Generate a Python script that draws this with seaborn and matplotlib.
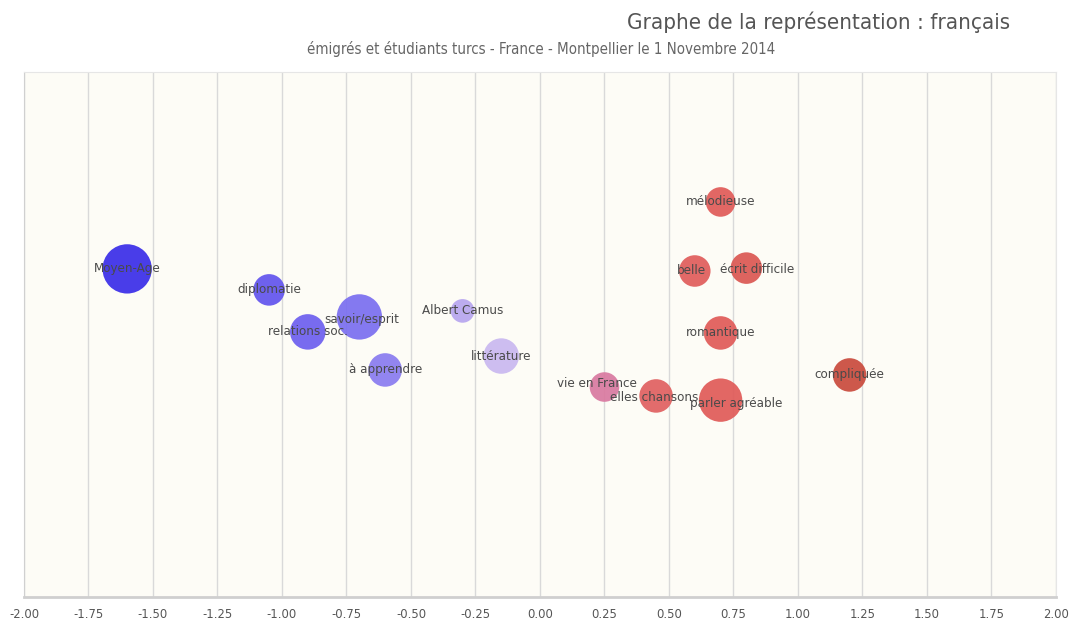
import matplotlib
matplotlib.use("Agg")
import matplotlib.pyplot as plt
import seaborn as sns
import pandas as pd
import numpy as np
from matplotlib.colors import LinearSegmentedColormap

# data
mots = [
    "Moyen-Age", "diplomatie", "relations soc.", "savoir/esprit", "à apprendre",
    "Albert Camus", "littérature", "vie en France", "elles chansons", "parler agréable",
    "mélodieuse", "belle", "écrit difficile", "romantique", "compliquée",
]
axe_x = [-1.60, -1.05, -0.90, -0.70, -0.60, -0.30, -0.15, 0.25, 0.45, 0.70,
         0.70, 0.60, 0.80, 0.70, 1.20]
axe_y = [0.25, 0.17, 0.01, 0.067, -0.135, 0.09, -0.082, -0.20, -0.234, -0.25,
         0.505, 0.242, 0.253, 0.006, -0.154]
poids = [625, 256, 324, 529, 289, 144, 324, 225, 289, 484, 225, 256, 256, 289, 289]
x_ticks = [-2.0, -1.75, -1.5, -1.25, -1.0, -0.75, -0.5, -0.25, 0.0, 0.25, 0.5,
           0.75, 1.0, 1.25, 1.5, 1.75, 2.0]

df = pd.DataFrame({"mot": mots, "x": axe_x, "y": axe_y, "poids": poids})

# small nudges of some labels (in pixels), as in the reference
decal = {"savoir/esprit": (2, -3), "vie en France": (-8, 4), "elles chansons": (-2, -2),
         "parler agréable": (16, -3), "écrit difficile": (11, -1), "belle": (-3, 0)}

# blue -> lavender -> pink -> red, keyed on the x position
cmap = LinearSegmentedColormap.from_list("bleu_rouge", [
    (0.00, "#1e10e6"), (0.10, "#3a2ee8"), (0.25, "#6658ef"), (0.325, "#7a6ef0"),
    (0.425, "#b8a6ef"), (0.4625, "#c9b8f0"), (0.5625, "#d97aa3"), (0.6125, "#e0605f"),
    (0.675, "#e05a58"), (0.80, "#c94a3c"), (1.00, "#a83222"),
])

sns.set_style("white")
plt.rcParams["font.family"] = ["DejaVu Sans"]
plt.rcParams["font.stretch"] = "condensed"

fig = plt.figure(figsize=(10.7, 6.23), dpi=100)
ax = fig.add_axes([0.0224, 0.0417, 0.9645, 0.8427])
ax.set_facecolor("#fdfcf6")

sns.scatterplot(data=df, x="x", y="y", hue="x", palette=cmap, hue_norm=(-2, 2),
                size="poids", sizes=(290, 1260), size_norm=(144, 625),
                edgecolor="none", alpha=0.92, legend=False, ax=ax, zorder=3)

for _, r in df.iterrows():
    dx, dy = decal.get(r["mot"], (0, 0))
    ax.annotate(r["mot"], (r["x"], r["y"]), xytext=(dx * 0.72, dy * 0.72),
                textcoords="offset points", ha="center", va="center",
                fontsize=9.5, color="#4a4a4a", zorder=4)

ax.set_xlim(-2, 2)
ax.set_ylim(-1, 1)
ax.set_xticks(x_ticks)
ax.set_xticklabels([f"{t:.2f}" for t in x_ticks], fontsize=9.3, color="#555555")
ax.set_yticks([])
ax.set_xlabel("")
ax.set_ylabel("")
ax.tick_params(axis="x", length=0, pad=8)
ax.grid(axis="x", color="#d9d9d9", linewidth=1)
ax.set_axisbelow(True)
for side in ["top", "right"]:
    ax.spines[side].set_color("#e6e6e6")
ax.spines["left"].set_color("#d0d0d0")
ax.spines["bottom"].set_color("#cfcfcf")
ax.spines["bottom"].set_linewidth(2)

fig.text(0.944, 0.965, "Graphe de la représentation : français", ha="right",
         va="center", fontsize=16, color="#555555")
fig.text(0.506, 0.922, "émigrés et étudiants turcs - France - Montpellier le 1 Novembre 2014",
         ha="center", va="center", fontsize=10.8, color="#666666")

fig.savefig("out.png", dpi=100)
